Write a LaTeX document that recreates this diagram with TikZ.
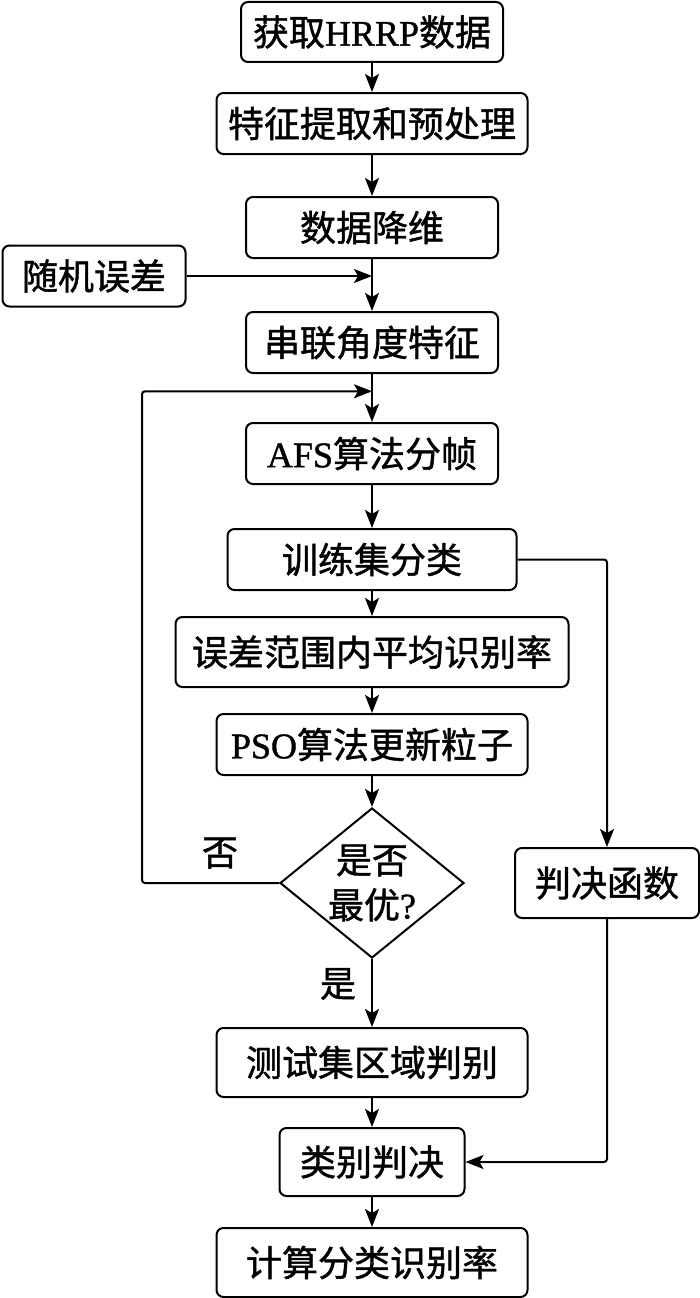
\documentclass[tikz,border=0pt]{standalone}
\usepackage{fontspec}
\setmainfont{Noto Sans CJK SC}[RawFeature={embolden=1.2}]
\newfontfamily\en{Liberation Serif}[RawFeature={embolden=1.2}]
\usepackage{tikz}
\usetikzlibrary{positioning,arrows.meta,shapes.geometric,calc}

\begin{document}
\begin{tikzpicture}[
  stepbox/.style={rectangle, draw, line width=2pt, rounded corners=7pt,
                  minimum height=61pt, inner sep=4pt, align=center,
                  font=\fontsize{36pt}{45pt}\selectfont},
  decide/.style={diamond, draw, line width=2pt, aspect=1.23, inner sep=0pt,
                 minimum width=184pt, minimum height=150pt, align=center,
                 font=\fontsize{36pt}{45pt}\selectfont},
  lbl/.style={font=\fontsize{36pt}{45pt}\selectfont},
  >={Stealth[length=18pt, width=14pt, inset=4pt]}, line width=2pt
]
  \useasboundingbox (0,0) rectangle (700pt,-1298pt);

  \node[stepbox, minimum width=262pt, minimum height=60pt] (get) at (372pt,-32pt) {获取{\en HRRP}数据};
  \node[stepbox, minimum width=311pt, below=29pt of get] (feat) {特征提取和预处理};
  \node[stepbox, minimum width=252pt, below=41pt of feat] (dimred) {数据降维};
  \node[stepbox, minimum width=252pt, below=52pt of dimred] (concat) {串联角度特征};
  \node[stepbox, minimum width=252pt, below=48pt of concat] (afs) {{\en AFS}算法分帧};
  \node[stepbox, minimum width=289pt, below=43pt of afs] (train) {训练集分类};
  \node[stepbox, minimum width=393pt, minimum height=70pt, below=25pt of train] (avg) {误差范围内平均识别率};
  \node[stepbox, minimum width=311pt, below=25pt of avg] (pso) {{\en PSO}算法更新粒子};
  \node[decide, below=31pt of pso] (opt) {是否\\最优{\en ?}};
  \node[stepbox, minimum width=311pt, minimum height=69pt, below=68pt of opt] (test) {测试集区域判别};
  \node[stepbox, minimum width=185pt, minimum height=68pt, below=29pt of test] (class) {类别判决};
  \node[stepbox, minimum width=311pt, minimum height=69pt, below=30pt of class] (calc) {计算分类识别率};

  \node[stepbox, minimum width=183pt] (err) at (94pt,-276pt) {随机误差};
  \node[stepbox, minimum width=184pt, minimum height=70pt, right=49pt of opt] (judge) {判决函数};

  \node[lbl] (no) at (220pt,-853pt) {否};
  \node[lbl] (yes) at (338pt,-984pt) {是};

  \coordinate (errin) at (dimred.south |- err.east);
  \coordinate (loopin) at ($(concat.south)!0.36!(afs.north)$);

  % main column
  \draw[->] (get) -- (feat);
  \draw[->] (feat) -- (dimred);
  \draw[->] (dimred) -- (concat);
  \draw[->] (concat) -- (afs);
  \draw[->] (afs) -- (train);
  \draw[->] (train) -- (avg);
  \draw[->] (avg) -- (pso);
  \draw[->] (pso) -- (opt);
  \draw[->] (opt) -- (test);
  \draw[->] (test) -- (class);
  \draw[->] (class) -- (calc);

  % side branches
  \draw[->] (err) -- (errin);
  \draw[->, rounded corners=3pt] (opt.west) -- ++(-137pt,0) |- (loopin);
  \draw[->, rounded corners=3pt] (train.east) -| (judge.north);
  \draw[->, rounded corners=3pt] (judge.south) |- (class.east);
\end{tikzpicture}
\end{document}
